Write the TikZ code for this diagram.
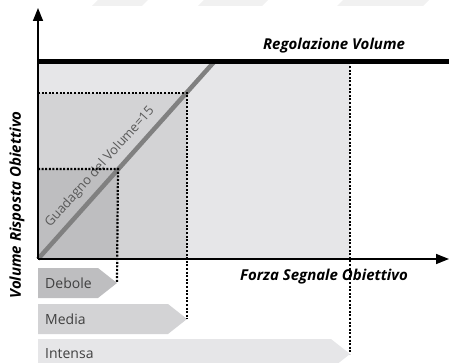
\documentclass[tikz,border=0pt]{standalone}
\usepackage{fontspec}
\setmainfont{Open Sans}
\usetikzlibrary{arrows.meta,calc}
\definecolor{cDark} {RGB}{190,190,192}
\definecolor{cMid}  {RGB}{211,211,213}
\definecolor{cLight}{RGB}{230,230,232}
\definecolor{cGain} {RGB}{128,128,128}
\definecolor{cMark} {RGB}{241,241,241}
\tikzset{
  axis/.style     = {-{Triangle[length=13pt,width=10pt]}, line width=1.5pt},
  limit/.style    = {line width=5pt},
  gainl/.style    = {cGain, line width=4.5pt},
  guide/.style    = {line width=2.2pt, dash pattern=on 2pt off 1.6pt},
  ttl/.style      = {font=\fontsize{15}{17}\selectfont\bfseries\itshape},
  lvl/.style      = {font=\fontsize{14}{16}\selectfont, text=black!75,
                     inner xsep=7pt, anchor=west},
  gaintxt/.style  = {font=\fontsize{13}{15}\selectfont, text=black!65,
                     inner sep=1pt},
}

\begin{document}
\begin{tikzpicture}[x=1pt, y=-1pt]
  \useasboundingbox (0,0) rectangle (449,363);

  % ---- faint marks along the top edge -------------------------------
  \foreach \a/\b in {92/142, 198/262, 337/423}
    \fill[cMark] (\a,6) -- (\a+6,0) -- (\b+6,0) -- (\b,6) -- cycle;

  \coordinate (O)    at (38,259);
  \coordinate (ytip) at (38,8);
  \coordinate (xtip) at (449,259);
  \coordinate (gtop) at (214,62);

  % ---- response areas -----------------------------------------------
  \fill[cLight] (38,62)  rectangle (350,259);
  \fill[cMid]   (38,93)  rectangle (187,259);
  \fill[cDark]  (38,169) rectangle (118,259);

  % ---- gain line ----------------------------------------------------
  \draw[gainl] (O) -- (gtop);
  \node[gaintxt, rotate=48.2] (gain) at (100,167) {Guadagno del Volume=15};

  % ---- signal levels ------------------------------------------------
  \foreach \name/\txt/\tip/\yc/\col in {deb/Debole/117/283/cDark,
                                        med/Media/187/319/cMid,
                                        int/Intensa/350/354/cLight}{
    \fill[\col] (38,\yc-15) -- (\tip-19,\yc-15) -- (\tip,\yc)
                -- (\tip-19,\yc+15) -- (38,\yc+15) -- cycle;
    \node[lvl] (\name) at (38,\yc) {\txt};
    \coordinate (\name tip) at (\tip,\yc);
  }

  % ---- guides -------------------------------------------------------
  \coordinate (kdeb) at (118,169);
  \coordinate (kmed) at (187,93);
  \coordinate (kint) at (350,66);
  \draw[guide] (38,169) -- (kdeb) -- (debtip);
  \draw[guide] (38,93)  -- (kmed) -- (medtip);
  \draw[guide] (kint) -- (inttip);

  % ---- limit and axes -----------------------------------------------
  \draw[limit] (38,62) -- (449,62);
  \draw[axis] (O) -- (ytip);
  \draw[axis] (O) -- (xtip);

  \node[ttl] (reg) at (334,46)  {Regolazione Volume};
  \node[ttl] (frz) at (324,277) {Forza Segnale Obiettivo};
  \node[ttl, rotate=90] (vol) at (17,205) {Volume Risposta Obiettivo};

\end{tikzpicture}
\end{document}
